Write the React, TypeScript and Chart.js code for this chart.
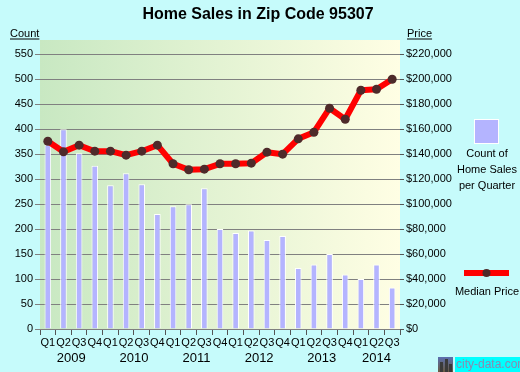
import React, { useEffect, useRef } from "react";
import { Chart, registerables } from "chart.js";

Chart.register(...registerables);

const quarters = ["Q1","Q2","Q3","Q4","Q1","Q2","Q3","Q4","Q1","Q2","Q3","Q4","Q1","Q2","Q3","Q4","Q1","Q2","Q3","Q4","Q1","Q2","Q3"];
const years = ["2009","2010","2011","2012","2013","2014"];
const yearStartIndex = [0, 4, 8, 12, 16, 20];
const salesCount = [369,400,352,327,288,312,290,230,246,250,282,200,192,197,178,186,122,129,150,109,100,129,83];
const medianPrice = [150400,141900,147200,142400,142400,139200,142400,147200,132300,127500,128000,132300,132300,132800,141600,140000,152300,157600,176800,168000,191200,192000,200000];
const countTicks = [0, 50, 100, 150, 200, 250, 300, 350, 400, 450, 500, 550];
const priceTicks = [0, 20000, 40000, 60000, 80000, 100000, 120000, 140000, 160000, 180000, 200000, 220000];
const countMax = 578.6;
const priceMax = countMax * 400;

const FONT = "Arial, 'Liberation Sans', sans-serif";

const decorPlugin = {
  id: "decor",
  beforeDraw(chart: any) {
    const { ctx, chartArea: a } = chart;
    ctx.save();
    ctx.fillStyle = "#c6fbfb";
    ctx.fillRect(0, 0, chart.width, chart.height);
    const g = ctx.createLinearGradient(a.left, 0, a.right, 0);
    g.addColorStop(0, "#c8e8c2");
    g.addColorStop(1, "#fffee4");
    ctx.fillStyle = g;
    ctx.fillRect(a.left, a.top, a.right - a.left, a.bottom - a.top);
    ctx.restore();
  },
  afterDraw(chart: any) {
    const { ctx } = chart;
    ctx.save();
    // title
    ctx.fillStyle = "#000";
    ctx.font = `bold 16px ${FONT}`;
    ctx.textAlign = "center";
    ctx.textBaseline = "middle";
    ctx.fillText("Home Sales in Zip Code 95307", 258, 15);
    // axis captions
    ctx.font = `11px ${FONT}`;
    ctx.textAlign = "left";
    ctx.textBaseline = "alphabetic";
    const cap = (t: string, x: number) => {
      ctx.fillText(t, x, 37);
      const w = ctx.measureText(t).width;
      ctx.fillRect(x, 38.5, w, 1);
    };
    cap("Count", 10);
    cap("Price", 407);
    // years
    const xs = chart.scales.x;
    ctx.font = `13px ${FONT}`;
    ctx.textAlign = "center";
    ctx.textBaseline = "middle";
    years.forEach((y, i) => {
      const s = yearStartIndex[i];
      const e = Math.min(s + 3, quarters.length - 1);
      const cx = (xs.getPixelForValue(s) + xs.getPixelForValue(e)) / 2;
      ctx.fillText(y, cx, 358);
    });
    // legend
    ctx.fillStyle = "#ffffff";
    ctx.fillRect(474, 119, 25, 25);
    ctx.fillStyle = "#b4b4ff";
    ctx.fillRect(475, 120, 23, 23);
    ctx.fillStyle = "#000";
    ctx.font = `11px ${FONT}`;
    ctx.fillText("Count of", 487, 154);
    ctx.fillText("Home Sales", 487, 170);
    ctx.fillText("per Quarter", 487, 186);
    ctx.fillStyle = "#ff0000";
    ctx.fillRect(464, 270, 45, 6);
    ctx.fillStyle = "#4e2a2a";
    ctx.beginPath();
    ctx.arc(486.5, 273, 4, 0, Math.PI * 2);
    ctx.fill();
    ctx.fillStyle = "#000";
    ctx.fillText("Median Price", 487, 292);
    // logo
    const lg = ctx.createLinearGradient(0, 357, 0, 372);
    lg.addColorStop(0, "#5a6fb0");
    lg.addColorStop(1, "#6a5a40");
    ctx.fillStyle = lg;
    ctx.fillRect(438, 357, 15, 15);
    ctx.fillStyle = "#3a3a3a";
    ctx.fillRect(440, 362, 3, 10);
    ctx.fillRect(445, 359, 3, 13);
    ctx.fillRect(449, 364, 3, 8);
    ctx.fillStyle = "#00ffff";
    ctx.fillRect(455, 357, 65, 15);
    ctx.fillStyle = "#8a8ab0";
    ctx.font = `12px ${FONT}`;
    ctx.textAlign = "left";
    ctx.fillText("city-data.com", 456, 365);
    ctx.restore();
  },
};

export default function App() {
  const ref = useRef<HTMLCanvasElement | null>(null);
  useEffect(() => {
    if (!ref.current) return;
    const chart = new Chart(ref.current, {
      type: "bar",
      data: {
        labels: quarters,
        datasets: [
          {
            type: "bar",
            label: "Count of Home Sales per Quarter",
            data: salesCount,
            yAxisID: "y",
            backgroundColor: "#b4b4ff",
            borderColor: "#ffffff",
            borderWidth: 1,
            barPercentage: 0.42,
            categoryPercentage: 1,
            order: 2,
          },
          {
            type: "line",
            label: "Median Price",
            data: medianPrice,
            yAxisID: "yPrice",
            borderColor: "#ff0000",
            borderWidth: 6,
            pointRadius: 4.5,
            pointBackgroundColor: "#4e2a2a",
            pointBorderWidth: 0,
            borderJoinStyle: "round",
            tension: 0,
            order: 1,
          } as any,
        ],
      },
      options: {
        responsive: false,
        animation: false,
        devicePixelRatio: 1,
        layout: { padding: { top: 40, left: 0, right: 0, bottom: 0 } },
        plugins: { legend: { display: false }, title: { display: false }, tooltip: { enabled: false } },
        scales: {
          x: {
            type: "category",
            offset: true,
            grid: { display: true, drawOnChartArea: false, offset: true, tickLength: 6, color: "#555555" },
            border: { display: false },
            ticks: { autoSkip: false, maxRotation: 0, minRotation: 0, padding: 1, color: "#000", font: { family: FONT, size: 11 } },
            afterFit: (s: any) => { s.height = 43; },
          },
          y: {
            type: "linear",
            position: "left",
            min: 0,
            max: countMax,
            ticks: { autoSkip: false, padding: 2, color: "#000", font: { family: FONT, size: 11 } },
            afterBuildTicks: (s: any) => { s.ticks = countTicks.map((v) => ({ value: v })); },
            grid: { color: "#808080", lineWidth: 1, tickLength: 5 },
            border: { display: false },
            afterFit: (s: any) => { s.width = 40; },
          },
          yPrice: {
            type: "linear",
            position: "right",
            min: 0,
            max: priceMax,
            ticks: {
              autoSkip: false,
              padding: 2,
              color: "#000",
              font: { family: FONT, size: 11 },
              callback: (v: any) => "$" + Number(v).toLocaleString("en-US"),
            },
            afterBuildTicks: (s: any) => { s.ticks = priceTicks.map((v) => ({ value: v })); },
            grid: { drawOnChartArea: false, color: "#555555", tickLength: 4 },
            border: { display: false },
            afterFit: (s: any) => { s.width = 120; },
          },
        },
      },
      plugins: [decorPlugin],
    } as any);
    return () => chart.destroy();
  }, []);
  return (
    <div style={{ position: "absolute", left: 0, top: 0, width: 520, height: 372 }}>
      <canvas ref={ref} width={520} height={372} style={{ display: "block" }} />
    </div>
  );
}
